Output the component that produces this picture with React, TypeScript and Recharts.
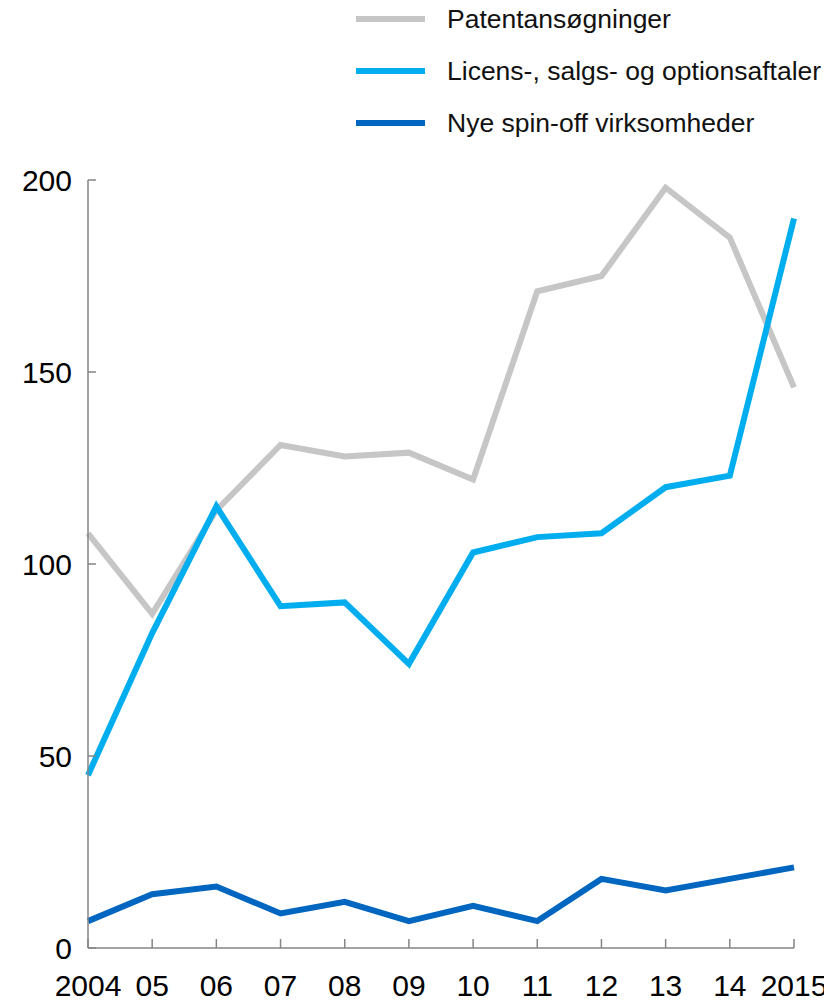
import { LineChart, Line, XAxis, YAxis, Legend } from 'recharts'

const years = ['2004', '05', '06', '07', '08', '09', '10', '11', '12', '13', '14', '2015']
const patents = [108, 87, 114, 131, 128, 129, 122, 171, 175, 198, 185, 146]
const licenses = [45, 82, 115, 89, 90, 74, 103, 107, 108, 120, 123, 190]
const spinoffs = [7, 14, 16, 9, 12, 7, 11, 7, 18, 15, 18, 21]
const yTicks = [0, 50, 100, 150, 200]

const series = [
  { key: 'patents', name: 'Patentansøgninger', color: '#c6c6c6' },
  { key: 'licenses', name: 'Licens-, salgs- og optionsaftaler', color: '#00aeef' },
  { key: 'spinoffs', name: 'Nye spin-off virksomheder', color: '#0066bf' },
]

const data = years.map((year, i) => ({
  year,
  patents: patents[i],
  licenses: licenses[i],
  spinoffs: spinoffs[i],
}))

const font = '"Liberation Sans", Arial, sans-serif'
const axisColor = '#858585'

function LegendBox() {
  return (
    <div style={{ fontFamily: font }}>
      {series.map((s) => (
        <div key={s.key} style={{ display: 'flex', alignItems: 'center', height: 52 }}>
          <div style={{ width: 69, height: 6, background: s.color, marginRight: 22 }} />
          <span style={{ fontSize: 26.5, color: '#111', whiteSpace: 'nowrap' }}>{s.name}</span>
        </div>
      ))}
    </div>
  )
}

export default function App() {
  return (
    <div style={{ position: 'absolute', left: 0, top: 0, width: 824, height: 1001, background: '#fff' }}>
      <LineChart width={824} height={1001} data={data} margin={{ top: 180, right: 30, bottom: 0, left: 0 }}>
        <XAxis
          dataKey="year"
          interval={0}
          height={53}
          tickSize={-9}
          tickMargin={36}
          stroke={axisColor}
          strokeWidth={1.5}
          tick={{ fontSize: 30, fill: '#000', fontFamily: font }}
        />
        <YAxis
          domain={[0, 200]}
          ticks={yTicks}
          width={88}
          tickSize={-8}
          tickMargin={24}
          stroke={axisColor}
          strokeWidth={1.5}
          tick={{ fontSize: 30, fill: '#000', fontFamily: font }}
        />
        <Legend
          layout="vertical"
          align="center"
          verticalAlign="middle"
          wrapperStyle={{ top: -7, left: 356, width: 468 }}
          content={() => <LegendBox />}
        />
        {series.map((s) => (
          <Line
            key={s.key}
            type="linear"
            dataKey={s.key}
            name={s.name}
            stroke={s.color}
            strokeWidth={6}
            strokeLinejoin="miter"
            dot={false}
            isAnimationActive={false}
          />
        ))}
      </LineChart>
    </div>
  )
}
